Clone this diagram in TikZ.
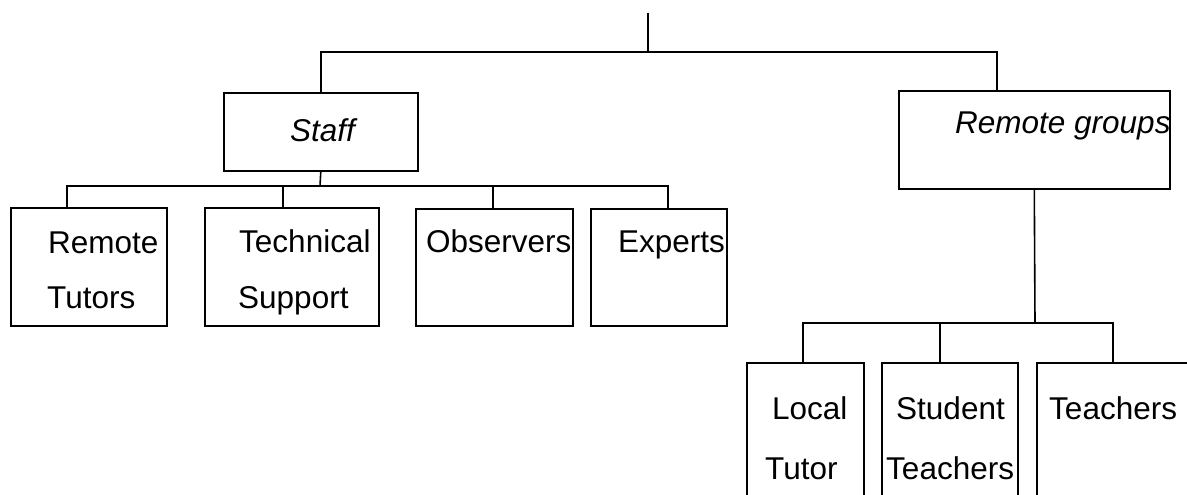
\documentclass[tikz,border=0pt]{standalone}
\usepackage{fontspec}
\setmainfont{Liberation Sans}
\usetikzlibrary{calc}
\begin{document}
\begin{tikzpicture}[x=1pt,y=-1pt,
  box/.style={draw, line width=1.6pt, rectangle, inner sep=0pt, anchor=north west},
  lbl/.style={inner sep=0pt, anchor=base west, font=\fontsize{31.5}{36}\selectfont},
  ilbl/.style={lbl, font=\fontsize{31.5}{36}\selectfont\itshape},
  conn/.style={line width=1.6pt}]
\useasboundingbox (0,0) rectangle (1187,495);
\clip (0,0) rectangle (1187,495);
% top-level boxes
\node[box, minimum width=194pt, minimum height=78pt] (staff) at (223,92) {};
\node[box, minimum width=271pt, minimum height=98pt] (rg) at (898,90) {};
% staff children
\node[box, minimum width=156pt, minimum height=118pt] (rt) at (10,207) {};
\node[box, minimum width=174pt, minimum height=118pt] (ts) at (204,207) {};
\node[box, minimum width=157pt, minimum height=117pt] (ob) at (415,208) {};
\node[box, minimum width=136pt, minimum height=117pt] (ex) at (590,208) {};
% remote group children
\node[box, minimum width=117pt, minimum height=160pt] (lt) at (746,362) {};
\node[box, minimum width=136pt, minimum height=160pt] (st) at (881,362) {};
\node[box, minimum width=180pt, minimum height=160pt] (te) at (1036,362) {};
% labels
\node[ilbl] (staffT) at (290,142) {Staff};
\node[ilbl] (rgT) at (955,133) {Remote groups};
\node[lbl] (rt1) at (48,253) {Remote};
\node[lbl] (rt2) at (47,308) {Tutors};
\node[lbl] (ts1) at (239,252) {Technical};
\node[lbl] (ts2) at (238,308) {Support};
\node[lbl] (obT) at (426,252) {Observers};
\node[lbl] (exT) at (618,252) {Experts};
\node[lbl] (lt1) at (772,419) {Local};
\node[lbl] (lt2) at (765,479) {Tutor};
\node[lbl] (st1) at (896,419) {Student};
\node[lbl] (st2) at (886,479) {Teachers};
\node[lbl] (teT) at (1049,419) {Teachers};
% junction coordinates
\coordinate (top) at (648,13);
\coordinate (bar0) at (648,52);
\coordinate (bar1) at (320,186);
\coordinate (bar2) at (1035,323);
% connectors
\draw[conn] (top) -- (bar0);
\draw[conn] (staff.north) |- (bar0) -| ($(rg.north west)+(99,0)$);
\draw[conn] (staff.south) -- (bar1);
\draw[conn] ($(rt.north west)+(57,0)$) |- (bar1);
\draw[conn] (bar1) -| ($(ex.north west)+(78,0)$);
\draw[conn] ($(ts.north west)+(79,0)$) -- ($(ts.north west)+(79,-21)$);
\draw[conn] ($(ob.north west)+(78,0)$) -- ($(ob.north west)+(78,-22)$);
\draw[conn] (rg.south) -- (bar2);
\draw[conn] ($(lt.north west)+(57,0)$) |- (bar2) -| ($(te.north west)+(77,0)$);
\draw[conn] ($(st.north west)+(59,0)$) -- ($(st.north west)+(59,-39)$);
\end{tikzpicture}
\end{document}
